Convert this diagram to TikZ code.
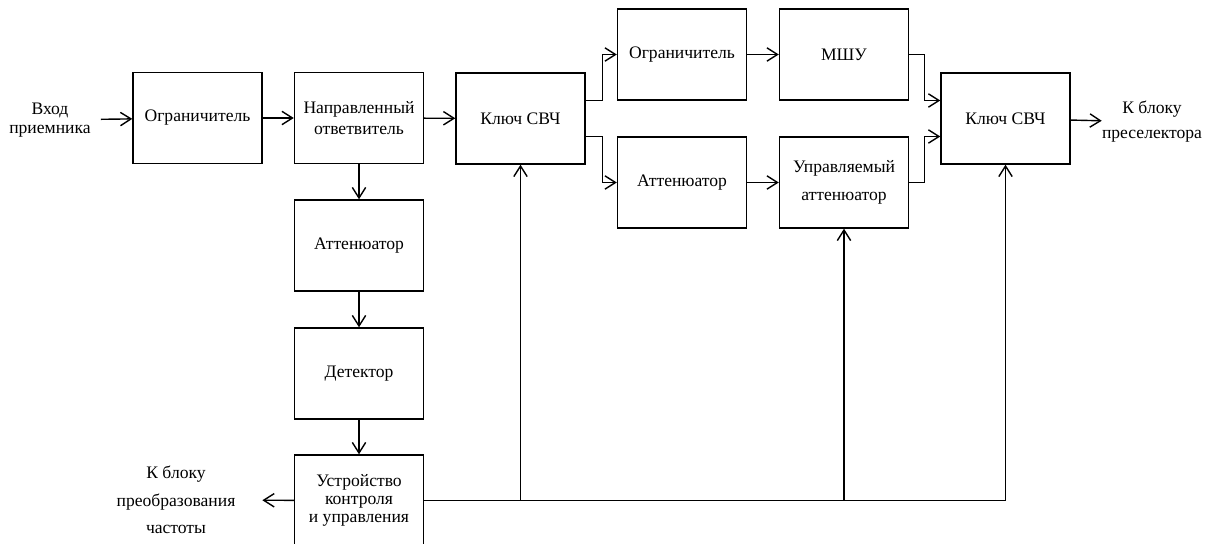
\documentclass[tikz,border=0pt]{standalone}
\usepackage{fontspec}
\setmainfont{Liberation Serif}
\usetikzlibrary{arrows.meta,calc}

\begin{document}
\begin{tikzpicture}[x=0.025cm,y=-0.025cm]
\tikzstyle{every node}=[font=\fontsize{12.5}{15.5}\selectfont]
\tikzstyle{block}=[draw, line width=1pt, minimum width=3.225cm, minimum height=2.275cm, inner sep=0pt, align=center]
\tikzstyle{txt}=[inner sep=0pt, align=center]
\tikzstyle{lsp}=[font=\fontsize{12.5}{#1}\selectfont]
\tikzstyle{wire}=[line width=1pt]
\tikzstyle{arr}=[line width=1pt, -{Straight Barb[length=7.5pt,width=9.5pt]}]

\useasboundingbox (0,0) rectangle (1210,544);

% main path
\node[block] (ogr1) at (197.5,118) {Ограничитель};
\node[block] (nao) at (359,118) {Направленный\\ответвитель};
\node[block] (key1) at (520.5,118.5) {Ключ СВЧ};
\node[block] (ogr2) at (682,54.5) {Ограничитель};
\node[block] (lna) at (844,54.5) {МШУ};
\node[block] (att2) at (682,182.5) {Аттенюатор};
\node[block, lsp=20pt] (vatt) at (844,182.5) {Управляемый\\аттенюатор};
\node[block] (key2) at (1005.5,118.5) {Ключ СВЧ};

% control path
\node[block] (att1) at (359,245.5) {Аттенюатор};
\node[block] (det) at (359,373.5) {Детектор};
\node[block, lsp=12.6pt] (ctrl) at (359,500.5) {Устройство\\контроля\\и управления};

% inputs and outputs
\node[txt, lsp=14pt] (in) at (50,120) {Вход\\приемника};
\node[txt, lsp=17.8pt] (out) at (1152,122) {К блоку\\преселектора};
\node[txt, lsp=19.5pt] (conv) at (176,500) {К блоку\\преобразования\\частоты};

\draw[arr, shorten <=7pt] (in) -- (ogr1);
\draw[arr] (ogr1) -- (nao);
\draw[arr] (nao) -- (key1);
\draw[arr] ($(key1.east)+(0,-18)$) -- ++(17,0) |- (ogr2);
\draw[arr] ($(key1.east)+(0,18)$) -- ++(17,0) |- (att2);
\draw[arr] (ogr2) -- (lna);
\draw[arr] (att2) -- (vatt);
\draw[arr] (lna.east) -- ++(15,0) |- ($(key2.west)+(0,-18)$);
\draw[arr] (vatt.east) -- ++(15,0) |- ($(key2.west)+(0,18)$);
\draw[arr] (key2) -- (out);

\draw[arr] (nao) -- (att1);
\draw[arr] (att1) -- (det);
\draw[arr] (det) -- (ctrl);
\draw[arr, shorten >=19pt] (ctrl) -- (conv);

% feedback bus
\draw[wire] (ctrl) -- (ctrl -| key2);
\draw[arr] (ctrl -| key1) -- (key1);
\draw[arr] (ctrl -| vatt) -- (vatt);
\draw[arr] (ctrl -| key2) -- (key2);

\end{tikzpicture}
\end{document}
